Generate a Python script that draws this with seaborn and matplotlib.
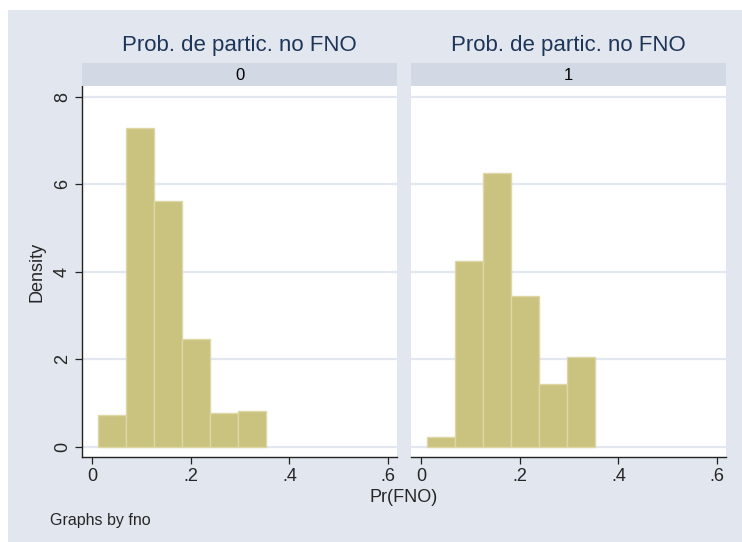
import matplotlib
matplotlib.use("Agg")
import matplotlib.pyplot as plt
from matplotlib.patches import Rectangle
import seaborn as sns
import pandas as pd

# Histogram bins
bin_edges = [0.013, 0.069, 0.126, 0.183, 0.240, 0.296, 0.353]
density_fno0 = [0.73, 7.28, 5.62, 2.45, 0.77, 0.82]
density_fno1 = [0.21, 4.25, 6.27, 3.44, 1.43, 2.04]
groups = ["0", "1"]
panel_title = "Prob. de partic. no FNO"
x_ticks = [0, 0.2, 0.4, 0.6]
x_ticklabels = ["0", ".2", ".4", ".6"]
y_ticks = [0, 2, 4, 6, 8]

centers = [(a + b) / 2 for a, b in zip(bin_edges[:-1], bin_edges[1:])]
df = pd.DataFrame({
    "fno": [groups[0]] * len(centers) + [groups[1]] * len(centers),
    "pr": centers + centers,
    "density": density_fno0 + density_fno1,
})

sns.set_style("white")
plt.rcParams["font.family"] = ["Liberation Sans", "DejaVu Sans"]

bg = "#E1E6EF"
strip_col = "#D2D9E5"
grid_col = "#E2E7F0"
bar_col = "#CAC37F"
bar_edge = "#DDD7A6"
title_col = "#1E3558"

W, H = 742, 542
fig = plt.figure(figsize=(W / 100, H / 100), dpi=100)
fig.patch.set_facecolor(bg)
# white margin on top and left (the graph region starts a few pixels in)
fig.patches.append(Rectangle((0, (H - 10) / H), 1, 10 / H, transform=fig.transFigure,
                             facecolor="white", edgecolor="none", zorder=-10))
fig.patches.append(Rectangle((0, 0), 8 / W, 1, transform=fig.transFigure,
                             facecolor="white", edgecolor="none", zorder=-10))

panel_left = [82, 411]
pw = 315
top_px, bot_px = 86, 457
strip_top = 63

for i, g in enumerate(groups):
    ax = fig.add_axes([panel_left[i] / W, (H - bot_px) / H, pw / W, (bot_px - top_px) / H])
    ax.set_facecolor("white")
    sub = df[df["fno"] == g]
    for y in y_ticks:
        ax.axhline(y, color=grid_col, lw=1.6, zorder=0)
    sns.histplot(data=sub, x="pr", weights="density", bins=bin_edges, stat="count",
                 color=bar_col, edgecolor=bar_edge, linewidth=1.0, alpha=1, ax=ax, zorder=2)
    ax.set_xlim(-0.0203, 0.618)
    ax.set_ylim(-0.24, 8.25)
    ax.set_xticks(x_ticks)
    ax.set_xticklabels(x_ticklabels, fontsize=13)
    ax.set_xlabel("")
    ax.set_ylabel("")
    for s in ["top", "right"]:
        ax.spines[s].set_visible(False)
    ax.spines["bottom"].set_color("#222222")
    ax.spines["bottom"].set_linewidth(1.0)
    ax.tick_params(axis="x", direction="out", length=5, width=0.9, color="#222222", pad=3,
                   bottom=True)
    if i == 0:
        ax.spines["left"].set_color("#222222")
        ax.spines["left"].set_linewidth(1.0)
        ax.set_yticks(y_ticks)
        ax.set_yticklabels([str(v) for v in y_ticks], fontsize=13, rotation=90, va="center")
        ax.tick_params(axis="y", direction="out", length=5, width=0.9, color="#222222",
                       pad=3, left=True)
        ax.set_ylabel("Density", fontsize=13, labelpad=6)
    else:
        ax.spines["left"].set_visible(False)
        ax.set_yticks([])

    # strip with the group value
    sax = fig.add_axes([panel_left[i] / W, (H - top_px) / H, pw / W, (top_px - strip_top) / H])
    sax.set_facecolor(strip_col)
    sax.set_xticks([])
    sax.set_yticks([])
    for s in sax.spines.values():
        s.set_visible(False)
    sax.text(0.5, 0.45, g, ha="center", va="center", fontsize=12, color="black",
             transform=sax.transAxes)
    fig.text((panel_left[i] + pw / 2) / W, (H - 46) / H, panel_title, ha="center",
             va="center", fontsize=16, color=title_col)

fig.text(404 / W, (H - 498) / H, "Pr(FNO)", ha="center", va="center", fontsize=13)
fig.text(50 / W, (H - 521) / H, "Graphs by fno", ha="left", va="center", fontsize=11.5)

fig.savefig("out.png", dpi=100, facecolor=fig.get_facecolor())
